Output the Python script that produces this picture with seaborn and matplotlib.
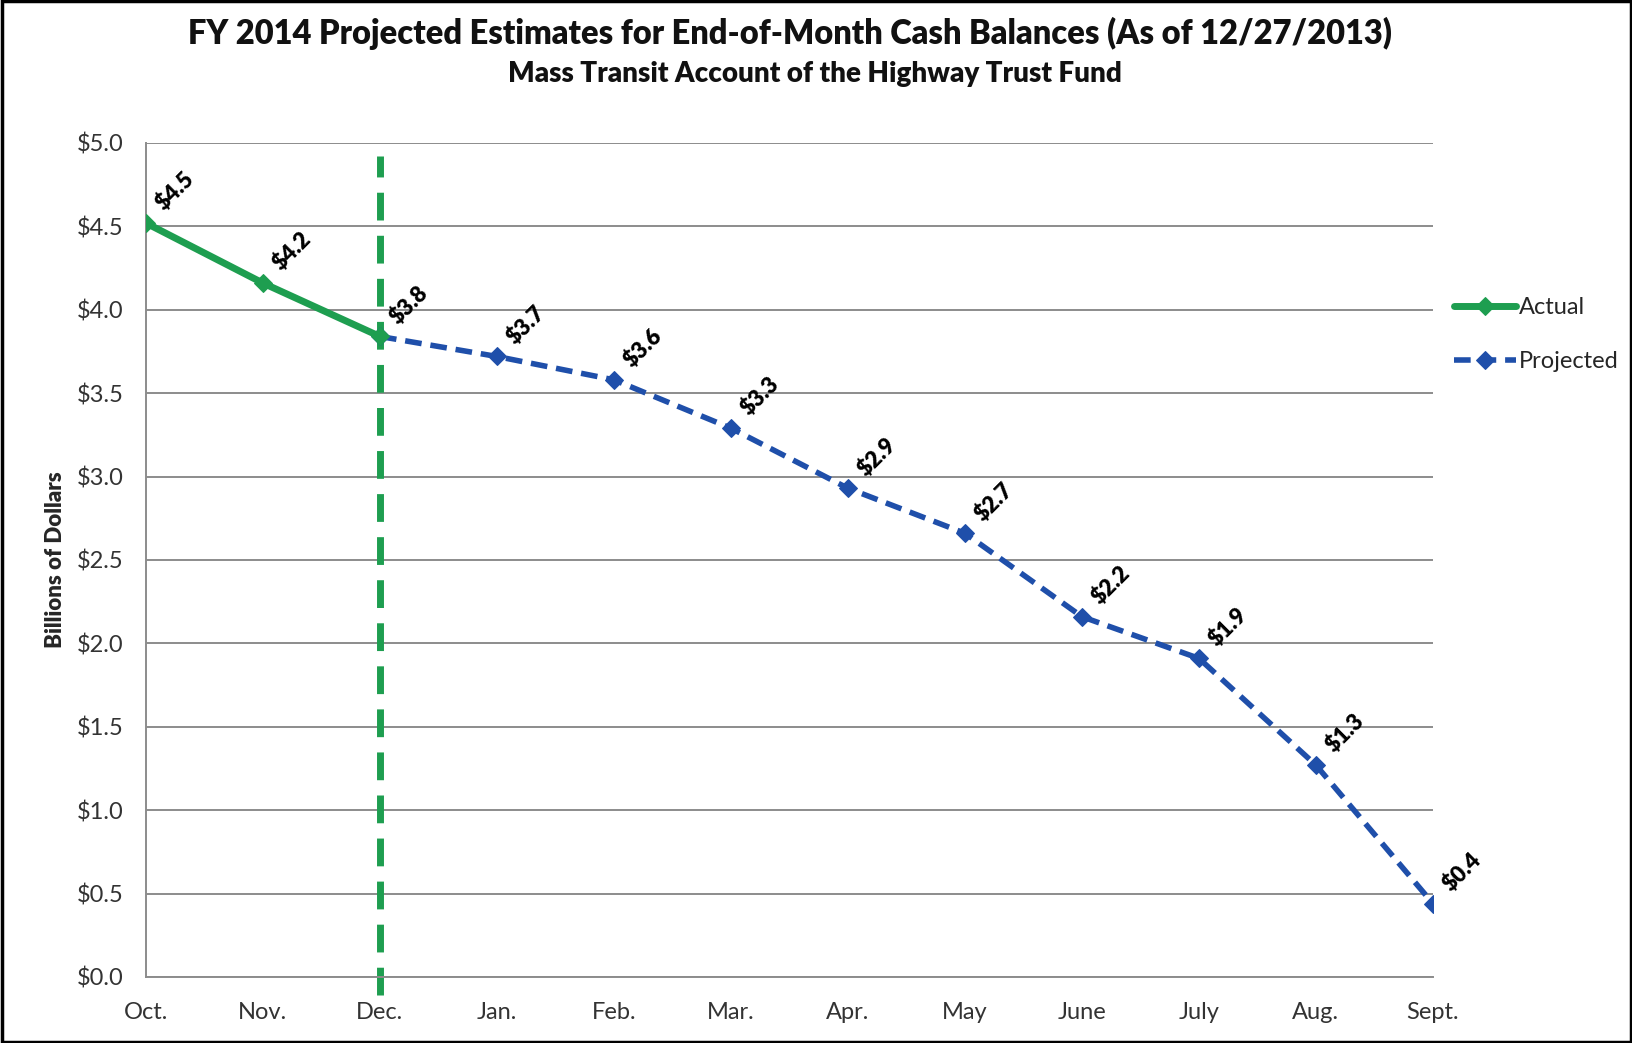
import pandas as pd
import matplotlib.pyplot as plt
import matplotlib.ticker as mticker
import seaborn as sns

# ── DATA ──────────────────────────────────────────────────────────────────────
months = ["Oct.", "Nov.", "Dec.", "Jan.", "Feb.", "Mar.", "Apr.",
          "May", "June", "July", "Aug.", "Sept."]
actual_months = ["Oct.", "Nov.", "Dec."]
actual_vals = [4.52, 4.16, 3.84]
proj_months = ["Dec.", "Jan.", "Feb.", "Mar.", "Apr.", "May",
               "June", "July", "Aug.", "Sept."]
proj_vals = [3.84, 3.72, 3.58, 3.29, 2.93, 2.66, 2.16, 1.91, 1.27, 0.44]
divider_month = "Dec."
y_ticks = [0.0, 0.5, 1.0, 1.5, 2.0, 2.5, 3.0, 3.5, 4.0, 4.5, 5.0]

GREEN = "#1E9E50"
BLUE = "#1F4FAA"
GRID = "#8C8C8C"

sns.set_theme(style="white")
plt.rcParams["font.family"] = ["Lato", "DejaVu Sans"]

pos = {m: i for i, m in enumerate(months)}
df_act = pd.DataFrame({"x": [pos[m] for m in actual_months], "y": actual_vals})
df_proj = pd.DataFrame({"x": [pos[m] for m in proj_months], "y": proj_vals})

fig = plt.figure(figsize=(16.33, 10.43), dpi=100)
ax = fig.add_axes([0.0894, 0.0633, 0.7881, 0.7996])

# trennlinie bei Dez.
ax.vlines(pos[divider_month], -0.11, 4.92, colors=GREEN, linewidth=5,
          linestyles=(0, (4, 2.2)), clip_on=False, zorder=2)

sns.lineplot(data=df_proj, x="x", y="y", ax=ax, color=BLUE, linewidth=4,
             linestyle=(0, (3, 1.6)), marker="D", markersize=9,
             markeredgecolor=BLUE, label="Projected", zorder=3)
sns.lineplot(data=df_act, x="x", y="y", ax=ax, color=GREEN, linewidth=5,
             marker="D", markersize=9, markeredgecolor=GREEN,
             label="Actual", zorder=4)

# data labels
for xs, ys in [(df_act["x"], df_act["y"]), (df_proj["x"][1:], df_proj["y"][1:])]:
    for x, y in zip(xs, ys):
        ax.annotate(f"\\${y:.1f}", (x, y), xytext=(15, 6), textcoords="offset points",
                    rotation=45, rotation_mode="anchor", ha="left", va="bottom",
                    fontsize=16, fontweight="heavy", color="black")

ax.set_xlim(0, len(months) - 1)
ax.set_ylim(0, 5.0)
ax.set_xticks(range(len(months)))
ax.set_xticklabels(months)
ax.set_yticks(y_ticks)
ax.yaxis.set_major_formatter(mticker.FuncFormatter(lambda v, _: f"\\${v:.1f}"))
ax.tick_params(axis="both", labelsize=17, colors=GRID, labelcolor="#333333",
               length=8, width=1.3, direction="out", pad=8)
ax.tick_params(axis="x", pad=10)
ax.grid(axis="y", color=GRID, linewidth=1.4)
ax.set_axisbelow(True)
for s in ["top", "right"]:
    ax.spines[s].set_visible(False)
for s in ["left", "bottom"]:
    ax.spines[s].set_color(GRID)
    ax.spines[s].set_linewidth(1.4)

ax.set_xlabel("")
ax.set_ylabel("Billions of Dollars", fontsize=16, fontweight="heavy", labelpad=8)

handles, labels = ax.get_legend_handles_labels()
order = [labels.index("Actual"), labels.index("Projected")]
ax.legend([handles[i] for i in order], [labels[i] for i in order],
          loc="center left", bbox_to_anchor=(1.0, 0.77), frameon=False,
          fontsize=17, handlelength=2.6, handletextpad=0.15, labelspacing=1.4)

fig.text(0.484, 0.968, "FY 2014 Projected Estimates for End-of-Month Cash Balances (As of 12/27/2013)",
         ha="center", va="center", fontsize=23.5, fontweight="heavy", color="#111111")
fig.text(0.499, 0.929, "Mass Transit Account of the Highway Trust Fund",
         ha="center", va="center", fontsize=20, fontweight="heavy", color="#111111")

# schwarzer rahmen
fig.patches.append(plt.Rectangle((0.001, 0.001), 0.998, 0.998, transform=fig.transFigure,
                                 fill=False, edgecolor="black", linewidth=2.5))

plt.savefig("out.png", dpi=100)
